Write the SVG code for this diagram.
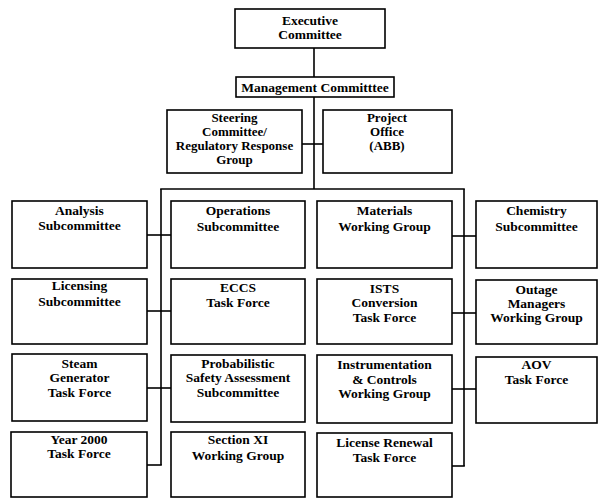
<svg xmlns="http://www.w3.org/2000/svg" width="599" height="498" viewBox="0 0 599 498">
<style>
rect{fill:#fff;stroke:#000;stroke-width:1.6}
.c line{stroke:#000;stroke-width:1.6}
text{font-family:"Liberation Serif","Times New Roman",serif;font-weight:bold;font-size:13.5px;text-anchor:middle;fill:#000}
.s text{font-size:13px}
</style>
<rect x="0" y="0" width="599" height="498" style="stroke:none"/>
<g class="c" id="connectors">
<line x1="314" y1="48" x2="314" y2="77"/>
<line x1="314" y1="97" x2="314" y2="189"/>
<line x1="302" y1="144" x2="323" y2="144"/>
<line x1="160.2" y1="189" x2="464.8" y2="189"/>
<line x1="161" y1="189" x2="161" y2="465"/>
<line x1="464" y1="189" x2="464" y2="466"/>
<line x1="147" y1="235" x2="171" y2="235"/>
<line x1="147" y1="311" x2="171" y2="311"/>
<line x1="147" y1="388" x2="171" y2="388"/>
<line x1="147" y1="465" x2="161.8" y2="465"/>
<line x1="452" y1="236" x2="476" y2="236"/>
<line x1="452" y1="313" x2="476" y2="313"/>
<line x1="452" y1="389" x2="476" y2="389"/>
<line x1="452" y1="466" x2="464.8" y2="466"/>
</g>
<g id="executive"><rect x="235" y="9" width="150" height="39"/><text x="310" y="25">Executive</text><text x="310" y="38.5">Committee</text></g>
<g id="management"><rect x="236" y="77" width="158" height="20"/><text x="315" y="91.5">Management Committtee</text></g>
<g id="steering" class="s"><rect x="167" y="110" width="135" height="63"/><text x="234.5" y="121.5">Steering</text><text x="234.5" y="135.5">Committee/</text><text x="234.5" y="149.5">Regulatory Response</text><text x="234.5" y="163.5">Group</text></g>
<g id="project" class="s"><rect x="323" y="110" width="129" height="63"/><text x="387" y="121.5">Project</text><text x="387" y="135.5">Office</text><text x="387" y="149.5">(ABB)</text></g>
<g id="analysis"><rect x="12" y="201" width="135" height="67"/><text x="79.5" y="214.5">Analysis</text><text x="79.5" y="229.5">Subcommittee</text></g>
<g id="operations"><rect x="171" y="201" width="134" height="67"/><text x="238" y="214.5">Operations</text><text x="238" y="231">Subcommittee</text></g>
<g id="materials"><rect x="317" y="201" width="135" height="67"/><text x="384.5" y="214.5">Materials</text><text x="384.5" y="231">Working Group</text></g>
<g id="chemistry"><rect x="476" y="201" width="121" height="67"/><text x="536.5" y="214.5">Chemistry</text><text x="536.5" y="231">Subcommittee</text></g>
<g id="licensing"><rect x="12" y="279" width="135" height="65"/><text x="79.5" y="289.5">Licensing</text><text x="79.5" y="306">Subcommittee</text></g>
<g id="eccs"><rect x="171" y="279" width="134" height="65"/><text x="238" y="291.5">ECCS</text><text x="238" y="306.5">Task Force</text></g>
<g id="ists"><rect x="317" y="279" width="135" height="65"/><text x="384.5" y="292.5">ISTS</text><text x="384.5" y="306.5">Conversion</text><text x="384.5" y="321.5">Task Force</text></g>
<g id="outage"><rect x="476" y="280" width="121" height="64"/><text x="536.5" y="293.5">Outage</text><text x="536.5" y="307.5">Managers</text><text x="536.5" y="322">Working Group</text></g>
<g id="steam"><rect x="12" y="354" width="135" height="67"/><text x="79.5" y="367.5">Steam</text><text x="79.5" y="382">Generator</text><text x="79.5" y="396.5">Task Force</text></g>
<g id="psa"><rect x="171" y="355" width="134" height="67"/><text x="238" y="367.5">Probabilistic</text><text x="238" y="382">Safety Assessment</text><text x="238" y="396.5">Subcommittee</text></g>
<g id="ic"><rect x="317" y="355" width="135" height="68"/><text x="384.5" y="369">Instrumentation</text><text x="384.5" y="383.5">&amp; Controls</text><text x="384.5" y="397.5">Working Group</text></g>
<g id="aov"><rect x="476" y="357" width="121" height="66"/><text x="536.5" y="368.5">AOV</text><text x="536.5" y="384">Task Force</text></g>
<g id="y2k"><rect x="11" y="432" width="136" height="65"/><text x="79" y="443.5">Year 2000</text><text x="79" y="457.5">Task Force</text></g>
<g id="sectionxi"><rect x="171" y="432" width="134" height="65"/><text x="238" y="443.5">Section XI</text><text x="238" y="459.5">Working Group</text></g>
<g id="renewal"><rect x="317" y="433" width="135" height="64"/><text x="384.5" y="446.5">License Renewal</text><text x="384.5" y="461.5">Task Force</text></g>
</svg>
